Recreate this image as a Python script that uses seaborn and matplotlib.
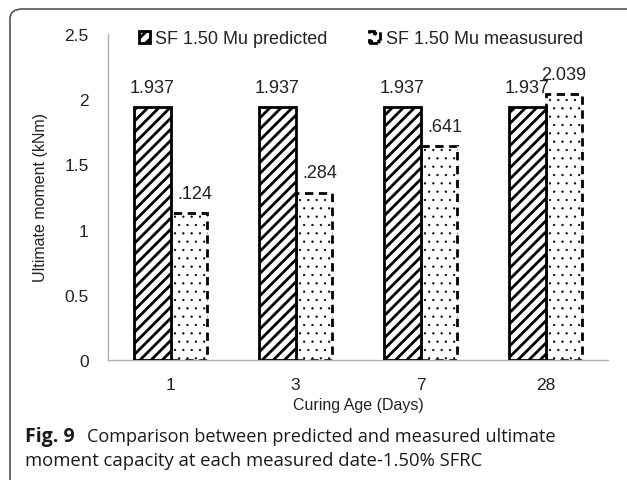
import matplotlib
matplotlib.use("Agg")
import matplotlib.pyplot as plt
import seaborn as sns
import pandas as pd
from matplotlib.patches import FancyBboxPatch

categories = ["1", "3", "7", "28"]
predicted = [1.937, 1.937, 1.937, 1.937]
measured = [1.124, 1.284, 1.641, 2.039]
predicted_labels = ["1.937", "1.937", "1.937", "1.937"]
measured_labels = [".124", ".284", ".641", "2.039"]
series_names = ["SF 1.50 Mu predicted", "SF 1.50 Mu measusured"]
y_ticks = [0, 0.5, 1, 1.5, 2, 2.5]
y_tick_labels = ["0", "0.5", "1", "1.5", "2", "2.5"]

df = pd.DataFrame({
    "age": categories * 2,
    "value": predicted + measured,
    "series": [series_names[0]] * 4 + [series_names[1]] * 4,
})

sns.set_theme(style="white")
plt.rcParams["font.family"] = ["Liberation Sans", "DejaVu Sans"]
plt.rcParams["hatch.linewidth"] = 2.0


def set_hlw(p, w):
    if hasattr(p, "set_hatch_linewidth"):
        p.set_hatch_linewidth(w)
    else:
        p._hatch_linewidth = w


fig = plt.figure(figsize=(6.27, 4.81), dpi=100)
ax = fig.add_axes([108 / 627, 1 - 361 / 481, 500 / 627, 326 / 481])

sns.barplot(data=df, x="age", y="value", hue="series", order=categories,
            hue_order=series_names, width=0.59, gap=0, ax=ax,
            palette=["white", "white"], legend=False, saturation=1)

bars_pred = ax.containers[0]
bars_meas = ax.containers[1]
for p in bars_pred:
    p.set_facecolor("white")
    p.set_edgecolor("black")
    p.set_hatch("///")
    set_hlw(p, 2.0)
    p.set_linewidth(2)
    p.set_zorder(3)
for p in bars_meas:
    p.set_facecolor("white")
    p.set_edgecolor("black")
    p.set_hatch("..")
    set_hlw(p, 0.4)
    p.set_linewidth(2)
    p.set_linestyle((0, (3, 2)))
    p.set_zorder(2)

fs_lab = 13
fs_tick = 12.5
fs_title = 11.5
for p, lab in zip(bars_pred, predicted_labels):
    ax.annotate(lab, (p.get_x() + p.get_width() / 2, p.get_height()),
                xytext=(0, 8), textcoords="offset points",
                ha="center", va="bottom", fontsize=fs_lab, color="#222222")
for p, lab in zip(bars_meas, measured_labels):
    dx = 0 if lab.startswith("2") else 4
    ax.annotate(lab, (p.get_x() + p.get_width() / 2, p.get_height()),
                xytext=(dx, 8), textcoords="offset points",
                ha="center", va="bottom", fontsize=fs_lab, color="#222222")

ax.set_ylim(0, 2.5)
ax.set_xlim(-0.5, 3.5)
ax.set_yticks(y_ticks)
ax.set_yticklabels(y_tick_labels)
ax.tick_params(axis="both", length=0, labelsize=fs_tick, colors="#222222")
ax.tick_params(axis="y", pad=14)
ax.tick_params(axis="x", pad=12)
ax.set_xlabel("Curing Age (Days)", fontsize=fs_title, color="#222222", labelpad=4)
ax.set_ylabel("Ultimate moment (kNm)", fontsize=fs_title, color="#222222", labelpad=12)
for s in ["top", "right"]:
    ax.spines[s].set_visible(False)
for s in ["left", "bottom"]:
    ax.spines[s].set_color("#b0b0b0")
    ax.spines[s].set_linewidth(1)

leg = fig.legend([bars_pred[0], bars_meas[0]], series_names, ncol=2,
                 loc="center", bbox_to_anchor=(361 / 627, 1 - 40 / 481),
                 frameon=False, fontsize=13, handlelength=0.6, handleheight=0.6,
                 handletextpad=0.3, columnspacing=2.3, labelcolor="#222222")

# caption
cap_font = ["Open Sans", "DejaVu Sans"]
fig.text(25 / 627, 1 - 437 / 481, "Fig. 9", fontsize=14, fontweight="bold",
         family=cap_font, va="center", ha="left", color="#1a1a1a")
fig.text(87 / 627, 1 - 437 / 481, "Comparison between predicted and measured ultimate",
         fontsize=13.1, family=cap_font, va="center", ha="left", color="#1a1a1a")
fig.text(25 / 627, 1 - 461 / 481, "moment capacity at each measured date-1.50% SFRC",
         fontsize=13.3, family=cap_font, va="center", ha="left", color="#1a1a1a")

frame = FancyBboxPatch((10 / 627, -20 / 481), 660 / 627, (481 - 10 + 20) / 481,
                       boxstyle="round,pad=0,rounding_size=0.02",
                       transform=fig.transFigure, fill=False,
                       edgecolor="#555555", linewidth=1.2)
fig.patches.append(frame)

fig.savefig("out.png", dpi=100)
